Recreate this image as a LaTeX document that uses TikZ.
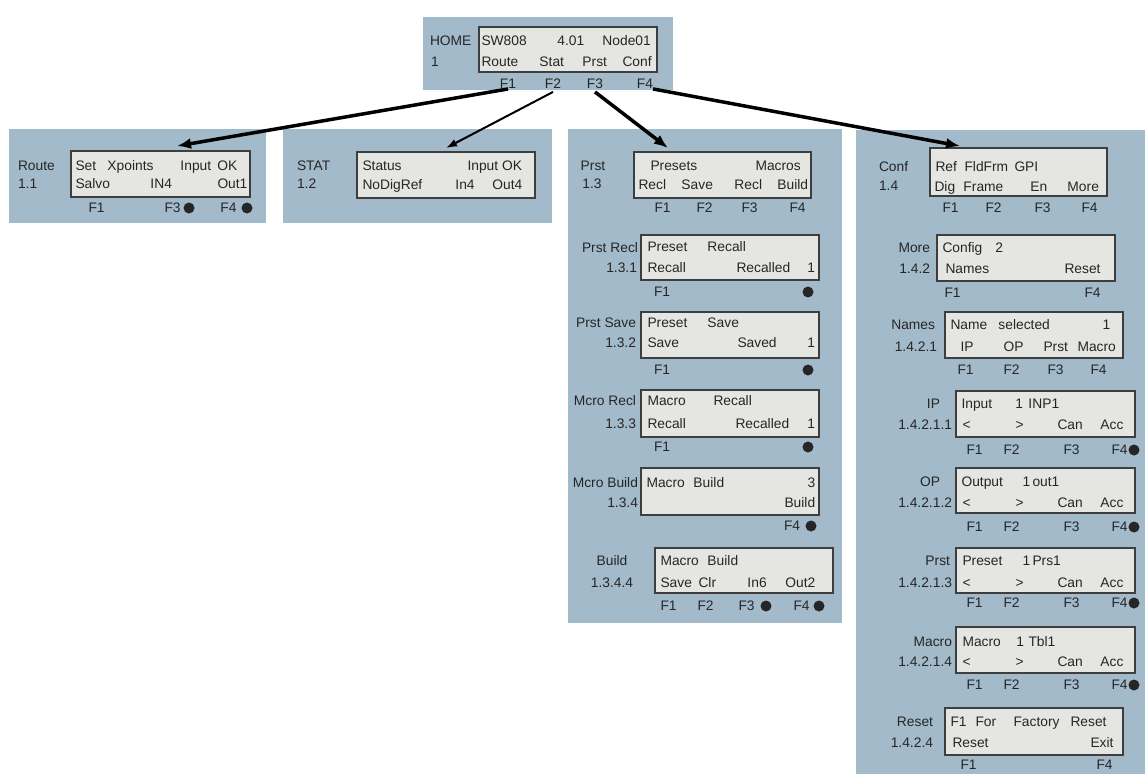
\documentclass[tikz,border=0pt]{standalone}
\usepackage{fontspec}
\setmainfont{Liberation Sans}
\usetikzlibrary{arrows.meta}
\definecolor{panelblue}{RGB}{163,186,202}
\definecolor{lcdgray}{RGB}{229,229,226}
\definecolor{lcdframe}{RGB}{62,62,62}
\definecolor{ink}{RGB}{38,38,38}
\newcommand{\putw}[2]{\rlap{\hspace*{#1pt}#2}}

\begin{document}
\begin{tikzpicture}[every node/.style={inner sep=0pt, outer sep=0pt, text=ink, font=\fontsize{13.8}{16}\selectfont, text height=9.9pt, text depth=0pt},
  panel/.style={fill=panelblue, anchor=north west},
  lcd/.style={fill=lcdgray, draw=lcdframe, line width=1.8pt, anchor=north west},
  row/.style={anchor=west},
  lbl/.style={anchor=west},
  lblr/.style={anchor=east},
  fkey/.style={anchor=center},
  link/.style={draw=black, line width=3.5pt, -{Latex[length=14pt,width=11pt]}},
  thinlink/.style={draw=black, line width=2pt, -{Latex[length=11pt,width=8pt]}}]
\useasboundingbox (0pt,0pt) rectangle (1145pt,-774pt);

% panels
\node (homepanel) [panel, minimum width=250pt, minimum height=73pt] at (423pt,-17pt) {};
\node (routepanel) [panel, minimum width=257pt, minimum height=94pt] at (9pt,-129pt) {};
\node (statpanel) [panel, minimum width=269pt, minimum height=94pt] at (283pt,-129pt) {};
\node (prstpanel) [panel, minimum width=274pt, minimum height=494pt] at (568pt,-129pt) {};
\node (confpanel) [panel, minimum width=289pt, minimum height=644pt] at (856pt,-130pt) {};

% HOME 1
\node (homelcd) [lcd, minimum width=178pt, minimum height=45pt] at (479pt,-27pt) {};
\node (homelbl) [lbl] at (430pt,-41pt) {HOME};
\node (homenum) [lbl] at (431pt,-62pt) {1};
\node (homeA) [row] at (481pt,-41pt) {\putw{0}{SW808}\putw{76}{4.01}\putw{121}{Node01}};
\node (homeB) [row] at (481pt,-62pt) {\putw{0}{Route}\putw{58}{Stat}\putw{101}{Prst}\putw{141}{Conf}};
\node (homef1) [fkey] at (508pt,-84pt) {F1};
\node (homef2) [fkey] at (553pt,-84pt) {F2};
\node (homef3) [fkey] at (595pt,-84pt) {F3};
\node (homef4) [fkey] at (645pt,-84pt) {F4};

% Route 1.1
\node (routelcd) [lcd, minimum width=179pt, minimum height=46pt] at (71pt,-151pt) {};
\node (routelbl) [lbl] at (18pt,-166pt) {Route};
\node (routenum) [lbl] at (18pt,-184pt) {1.1};
\node (routeA) [row] at (75pt,-166pt) {\putw{0}{Set}\putw{32}{Xpoints}\putw{105}{Input}\putw{142}{OK}};
\node (routeB) [row] at (75pt,-184pt) {\putw{0}{Salvo}\putw{75}{IN4}\putw{142}{Out1}};
\node (routeF) [row] at (88pt,-208pt) {\putw{0}{F1}\putw{76}{F3}\putw{132}{F4}};

% STAT 1.2
\node (statlcd) [lcd, minimum width=178pt, minimum height=46pt] at (357pt,-152pt) {};
\node (statlbl) [lbl] at (297pt,-166pt) {STAT};
\node (statnum) [lbl] at (297pt,-184pt) {1.2};
\node (statA) [row] at (362pt,-166pt) {\putw{0}{Status}\putw{105}{Input OK}};
\node (statB) [row] at (362pt,-185pt) {\putw{0}{NoDigRef}\putw{93}{In4}\putw{130}{Out4}};

% Prst 1.3
\node (prstlcd) [lcd, minimum width=177pt, minimum height=46pt] at (634pt,-152pt) {};
\node (prstlbl) [fkey] at (593pt,-166pt) {Prst};
\node (prstnum) [fkey] at (592pt,-184pt) {1.3};
\node (prstA) [row] at (650pt,-166pt) {\putw{0}{Presets}\putw{105}{Macros}};
\node (prstB) [row] at (638pt,-185pt) {\putw{0}{Recl}\putw{43}{Save}\putw{96}{Recl}\putw{139}{Build}};
\node (prstF) [row] at (654pt,-208pt) {\putw{0}{F1}\putw{42}{F2}\putw{87}{F3}\putw{135}{F4}};

% Prst Recl 1.3.1
\node (prstrecllcd) [lcd, minimum width=178pt, minimum height=45pt] at (641pt,-235pt) {};
\node (prstrecllbl) [lblr] at (638pt,-248pt) {Prst Recl};
\node (prstreclnum) [lblr] at (637pt,-268pt) {1.3.1};
\node (prstreclA) [row] at (647pt,-247pt) {\putw{0}{Preset}\putw{60}{Recall}};
\node (prstreclB) [row] at (647pt,-268pt) {\putw{0}{Recall}\putw{89}{Recalled}\putw{160}{1}};
\node (prstreclF) [row] at (654pt,-292pt) {F1};

% Prst Save 1.3.2
\node (prstsavelcd) [lcd, minimum width=178pt, minimum height=46pt] at (641pt,-312pt) {};
\node (prstsavelbl) [lblr] at (636pt,-323pt) {Prst Save};
\node (prstsavenum) [lblr] at (636pt,-343pt) {1.3.2};
\node (prstsaveA) [row] at (647pt,-323pt) {\putw{0}{Preset}\putw{60}{Save}};
\node (prstsaveB) [row] at (647pt,-343pt) {\putw{0}{Save}\putw{90}{Saved}\putw{160}{1}};
\node (prstsaveF) [row] at (654pt,-370pt) {F1};

% Mcro Recl 1.3.3
\node (mcrorecllcd) [lcd, minimum width=178pt, minimum height=47pt] at (641pt,-390pt) {};
\node (mcrorecllbl) [lblr] at (636pt,-401pt) {Mcro Recl};
\node (mcroreclnum) [lblr] at (636pt,-424pt) {1.3.3};
\node (mcroreclA) [row] at (647pt,-401pt) {\putw{0}{Macro}\putw{66}{Recall}};
\node (mcroreclB) [row] at (647pt,-424pt) {\putw{0}{Recall}\putw{88}{Recalled}\putw{160}{1}};
\node (mcroreclF) [row] at (654pt,-447pt) {F1};

% Mcro Build 1.3.4
\node (mcrobuildlcd) [lcd, minimum width=178pt, minimum height=47pt] at (641pt,-468pt) {};
\node (mcrobuildlbl) [lblr] at (638pt,-483pt) {Mcro Build};
\node (mcrobuildnum) [lblr] at (638pt,-503pt) {1.3.4};
\node (mcrobuildA) [row] at (646pt,-483pt) {\putw{0}{Macro}\putw{47}{Build}\putw{161}{3}};
\node (mcrobuildB) [row] at (646pt,-503pt) {\putw{138}{Build}};
\node (mcrobuildF) [row] at (784pt,-526pt) {F4};

% Build 1.3.4.4
\node (buildlcd) [lcd, minimum width=178pt, minimum height=45pt] at (655pt,-548pt) {};
\node (buildlbl) [fkey] at (612pt,-561pt) {Build};
\node (buildnum) [fkey] at (612pt,-583pt) {1.3.4.4};
\node (buildA) [row] at (660pt,-561pt) {\putw{0}{Macro}\putw{47}{Build}};
\node (buildB) [row] at (660pt,-583pt) {\putw{0}{Save}\putw{38}{Clr}\putw{87}{In6}\putw{125}{Out2}};
\node (buildF) [row] at (660pt,-606pt) {\putw{0}{F1}\putw{37}{F2}\putw{78}{F3}\putw{133}{F4}};

% Conf 1.4
\node (conflcd) [lcd, minimum width=177pt, minimum height=48pt] at (930pt,-148pt) {};
\node (conflbl) [lbl] at (879pt,-167pt) {Conf};
\node (confnum) [lbl] at (879pt,-186pt) {1.4};
\node (confA) [row] at (935pt,-167pt) {\putw{0}{Ref}\putw{29}{FldFrm}\putw{79}{GPI}};
\node (confB) [row] at (934pt,-187pt) {\putw{0}{Dig}\putw{29}{Frame}\putw{96}{En}\putw{133}{More}};
\node (confF) [row] at (942pt,-208pt) {\putw{0}{F1}\putw{43}{F2}\putw{92}{F3}\putw{139}{F4}};

% More 1.4.2
\node (morelcd) [lcd, minimum width=178pt, minimum height=46pt] at (937pt,-235pt) {};
\node (morelbl) [lblr] at (930pt,-248pt) {More};
\node (morenum) [lblr] at (930pt,-269pt) {1.4.2};
\node (moreA) [row] at (942pt,-248pt) {\putw{0}{Config}\putw{53}{2}};
\node (moreB) [row] at (945pt,-269pt) {\putw{0}{Names}\putw{119}{Reset}};
\node (moreF) [row] at (944pt,-293pt) {\putw{0}{F1}\putw{140}{F4}};

% Names 1.4.2.1
\node (nameslcd) [lcd, minimum width=178pt, minimum height=46pt] at (945pt,-312pt) {};
\node (nameslbl) [lblr] at (935pt,-325pt) {Names};
\node (namesnum) [lblr] at (937pt,-347pt) {1.4.2.1};
\node (namesA) [row] at (950pt,-325pt) {\putw{0}{Name}\putw{48}{selected}\putw{152}{1}};
\node (namesB) [row] at (960pt,-347pt) {\putw{0}{IP}\putw{43}{OP}\putw{83}{Prst}\putw{117}{Macro}};
\node (namesF) [row] at (957pt,-370pt) {\putw{0}{F1}\putw{46}{F2}\putw{90}{F3}\putw{133}{F4}};

% IP 1.4.2.1.1
\node (iplcd) [lcd, minimum width=179pt, minimum height=46pt] at (956pt,-391pt) {};
\node (iplbl) [lblr] at (940pt,-404pt) {IP};
\node (ipnum) [lblr] at (952pt,-425pt) {1.4.2.1.1};
\node (ipA) [row] at (961pt,-404pt) {\putw{0}{Input}\putw{54}{1}\putw{67}{INP1}};
\node (ipB) [row] at (962pt,-425pt) {\putw{0}{<}\putw{53}{>}\putw{95}{Can}\putw{138}{Acc}};
\node (ipF) [row] at (966pt,-450pt) {\putw{0}{F1}\putw{37}{F2}\putw{97}{F3}\putw{145}{F4}};

% OP 1.4.2.1.2
\node (oplcd) [lcd, minimum width=179pt, minimum height=45pt] at (956pt,-468pt) {};
\node (oplbl) [lblr] at (940pt,-482pt) {OP};
\node (opnum) [lblr] at (952pt,-503pt) {1.4.2.1.2};
\node (opA) [row] at (961pt,-482pt) {\putw{0}{Output}\putw{61}{1}\putw{71}{out1}};
\node (opB) [row] at (962pt,-503pt) {\putw{0}{<}\putw{53}{>}\putw{95}{Can}\putw{138}{Acc}};
\node (opF) [row] at (966pt,-527pt) {\putw{0}{F1}\putw{37}{F2}\putw{97}{F3}\putw{145}{F4}};

% Prst 1.4.2.1.3
\node (prstnmlcd) [lcd, minimum width=179pt, minimum height=45pt] at (956pt,-548pt) {};
\node (prstnmlbl) [lblr] at (950pt,-561pt) {Prst};
\node (prstnmnum) [lblr] at (952pt,-583pt) {1.4.2.1.3};
\node (prstnmA) [row] at (962pt,-561pt) {\putw{0}{Preset}\putw{60}{1}\putw{70}{Prs1}};
\node (prstnmB) [row] at (962pt,-583pt) {\putw{0}{<}\putw{53}{>}\putw{95}{Can}\putw{138}{Acc}};
\node (prstnmF) [row] at (966pt,-603pt) {\putw{0}{F1}\putw{37}{F2}\putw{97}{F3}\putw{145}{F4}};

% Macro 1.4.2.1.4
\node (macrolcd) [lcd, minimum width=179pt, minimum height=46pt] at (956pt,-627pt) {};
\node (macrolbl) [lblr] at (952pt,-642pt) {Macro};
\node (macronum) [lblr] at (952pt,-662pt) {1.4.2.1.4};
\node (macroA) [row] at (962pt,-642pt) {\putw{0}{Macro}\putw{54}{1}\putw{66}{Tbl1}};
\node (macroB) [row] at (962pt,-662pt) {\putw{0}{<}\putw{53}{>}\putw{95}{Can}\putw{138}{Acc}};
\node (macroF) [row] at (966pt,-685pt) {\putw{0}{F1}\putw{37}{F2}\putw{97}{F3}\putw{145}{F4}};

% Reset 1.4.2.4
\node (resetlcd) [lcd, minimum width=178pt, minimum height=47pt] at (945pt,-708pt) {};
\node (resetlbl) [lblr] at (933pt,-722pt) {Reset};
\node (resetnum) [lblr] at (933pt,-743pt) {1.4.2.4};
\node (resetA) [row] at (950pt,-722pt) {\putw{0}{F1}\putw{25}{For}\putw{63}{Factory}\putw{120}{Reset}};
\node (resetB) [row] at (952pt,-743pt) {\putw{0}{Reset}\putw{138}{Exit}};
\node (resetF) [row] at (960pt,-765pt) {\putw{0}{F1}\putw{136}{F4}};

% key dots
\foreach \dx/\dy in {189/208, 247/208, 808/292, 808/370, 808/447, 811/526, 766/606, 819/606, 1134/450, 1134/527, 1134/603, 1134/685}
  \fill [ink] (\dx*1pt,-\dy*1pt) circle (5.5pt);

% arrows from HOME keys
\coordinate (routein) at (177pt,-146pt);
\coordinate (statin) at (446pt,-148pt);
\coordinate (prstin) at (668pt,-148pt);
\coordinate (confin) at (960pt,-146pt);
\draw [link] (homef1.south) to (routein);
\draw [thinlink] ([yshift=-3pt]homef2.south) to (statin);
\draw [link] ([yshift=-3pt]homef3.south) to (prstin);
\draw [link] ([xshift=8pt]homef4.south) to (confin);
\end{tikzpicture}
\end{document}
